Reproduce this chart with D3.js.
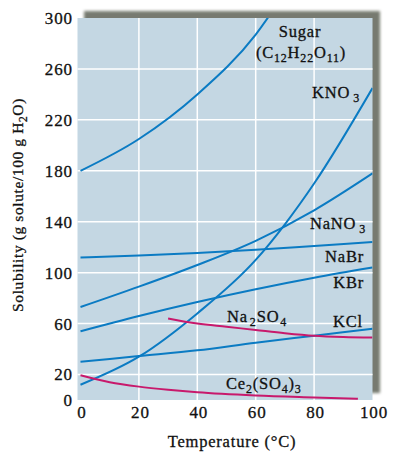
<!DOCTYPE html>
<html>
<head>
<meta charset="utf-8">
<script src="https://cdn.jsdelivr.net/npm/d3@7"></script>
<style>
  body { margin: 0; background: #fff; }
  text { font-family: "Liberation Serif", "Times New Roman", serif; fill: #111; stroke: #111; stroke-width: 0.3px; }
</style>
</head>
<body>
<div id="container"></div>
<script>
// solubility readings, g solute / 100 g water
var temps = [0, 20, 40, 60, 80, 100];
var sugar = [[0, 180], [20, 205], [40, 240], [60, 287], [70, 320]];
var kno3 = [[0, 12], [20, 34], [40, 68], [60, 110], [70, 138], [80, 170], [100, 245]];
var nano3 = [[0, 73], [20, 89], [40, 106], [60, 125], [80, 149], [100, 178]];
var nabr = [[0, 112], [20, 113.5], [40, 115.5], [60, 118], [80, 121], [100, 124]];
var kbr = [[0, 54], [20, 66], [40, 77], [60, 87], [80, 96], [100, 104]];
var kcl = [[0, 30], [20, 34.5], [40, 39], [60, 45], [80, 50.5], [100, 56]];
var na2so4 = [[30, 64], [40, 60], [50, 57.5], [60, 55], [70, 52.5], [80, 50.5], [90, 49.5], [100, 49]];
var ce2so43 = [[0, 19.5], [10, 14], [20, 10.5], [30, 8], [40, 6], [60, 3.5], [80, 2], [95, 1]];
var yTicks = [0, 20, 60, 100, 140, 180, 220, 260, 300];

var blue = "#0b7bc3", magenta = "#c8196c";

var svg = d3.select("#container").append("svg")
  .attr("width", 398).attr("height", 456);

var x = d3.scaleLinear().domain([0, 100]).range([80.5, 372.5]);
var y = d3.scaleLinear().domain([0, 300]).range([400, 18]);

var defs = svg.append("defs");
defs.append("filter").attr("id", "blur")
  .attr("x", "-10%").attr("y", "-10%").attr("width", "120%").attr("height", "120%")
  .append("feGaussianBlur").attr("stdDeviation", 1.8);
defs.append("clipPath").attr("id", "plotclip")
  .append("rect").attr("x", 77.5).attr("y", 18).attr("width", 295).attr("height", 382);

// shadow behind the plot
svg.append("rect")
  .attr("x", 84).attr("y", 11).attr("width", 296).attr("height", 382)
  .attr("fill", "#777a70").attr("filter", "url(#blur)");

svg.append("rect")
  .attr("x", 77.5).attr("y", 18).attr("width", 295).attr("height", 382)
  .attr("fill", "#c4d7e3");

// grid
svg.selectAll(".hgrid").data(yTicks.filter(function(d){ return d > 0 && d < 300; }))
  .enter().append("line")
    .attr("x1", 77.5).attr("x2", 372.5)
    .attr("y1", function(d){ return y(d); }).attr("y2", function(d){ return y(d); })
    .attr("stroke", "#fff").attr("stroke-width", 1.5);
svg.selectAll(".vgrid").data(temps.filter(function(d){ return d > 0 && d < 100; }))
  .enter().append("line")
    .attr("y1", 18).attr("y2", 400)
    .attr("x1", function(d){ return x(d); }).attr("x2", function(d){ return x(d); })
    .attr("stroke", "#fff").attr("stroke-width", 1.5);

var line = d3.line()
  .x(function(d){ return x(d[0]); })
  .y(function(d){ return y(d[1]); })
  .curve(d3.curveMonotoneX);

var curves = [
  [sugar, blue], [kno3, blue], [nano3, blue], [nabr, blue],
  [kbr, blue], [kcl, blue], [na2so4, magenta], [ce2so43, magenta]
];
var g = svg.append("g").attr("clip-path", "url(#plotclip)");
curves.forEach(function(c){
  g.append("path").attr("d", line(c[0]))
    .attr("fill", "none").attr("stroke", c[1]).attr("stroke-width", 2);
});

// axes
svg.append("g")
  .attr("transform", "translate(1,400)")
  .call(d3.axisBottom(x).tickValues(temps).tickSize(0).tickPadding(6))
  .call(function(a){ a.select(".domain").remove(); })
  .selectAll("text").attr("font-size", 17).attr("letter-spacing", 0.9)
    .attr("fill", "#111").attr("font-family", "Liberation Serif, serif");

svg.append("g")
  .attr("transform", "translate(78,0)")
  .call(d3.axisLeft(y).tickValues(yTicks).tickSize(0).tickPadding(5))
  .call(function(a){ a.select(".domain").remove(); })
  .selectAll("text").attr("font-size", 17).attr("letter-spacing", 0.9)
    .attr("fill", "#111").attr("font-family", "Liberation Serif, serif");

svg.append("text").attr("x", 232).attr("y", 447)
  .attr("text-anchor", "middle").attr("font-size", 16.5).attr("letter-spacing", 0.8)
  .text("Temperature (°C)");

var yl = svg.append("text")
  .attr("transform", "translate(23,205) rotate(-90)")
  .attr("text-anchor", "middle").attr("font-size", 15.5).attr("letter-spacing", 0.6);
yl.append("tspan").text("Solubility (g solute/100 g H");
yl.append("tspan").attr("font-size", 11.5).attr("dy", 4).text("2");
yl.append("tspan").attr("dy", -4).text("O)");

// curve labels: parts are [text, isSub, gapBefore]
function label(px, py, parts, anchor){
  var t = svg.append("text").attr("x", px).attr("y", py)
    .attr("font-size", 16.5).attr("letter-spacing", 0.8)
    .attr("text-anchor", anchor || "start");
  var down = false;
  parts.forEach(function(p){
    var s = t.append("tspan").text(p[0]);
    if(p[2]) s.attr("dx", p[2]);
    if(p[1]){
      s.attr("font-size", 12);
      if(!down){ s.attr("dy", 4); down = true; }
    } else if(down){ s.attr("dy", -4); down = false; }
  });
}

label(300, 37, [["Sugar"]], "middle");
label(301, 58, [["(C"], ["12", 1], ["H"], ["22", 1], ["O"], ["11", 1], [")"]], "middle");
label(312, 98, [["KNO"], ["3", 1, 3]]);
label(310, 229, [["NaNO"], ["3", 1, 3]]);
label(364, 262, [["NaBr"]], "end");
label(364, 288, [["KBr"]], "end");
label(363, 327, [["KCl"]], "end");
label(227, 322, [["Na"], ["2", 1, 2], ["SO"], ["4", 1, 1]]);
label(226, 389, [["Ce"], ["2", 1], ["(SO"], ["4", 1], [")"], ["3", 1]]);
</script>
</body>
</html>
